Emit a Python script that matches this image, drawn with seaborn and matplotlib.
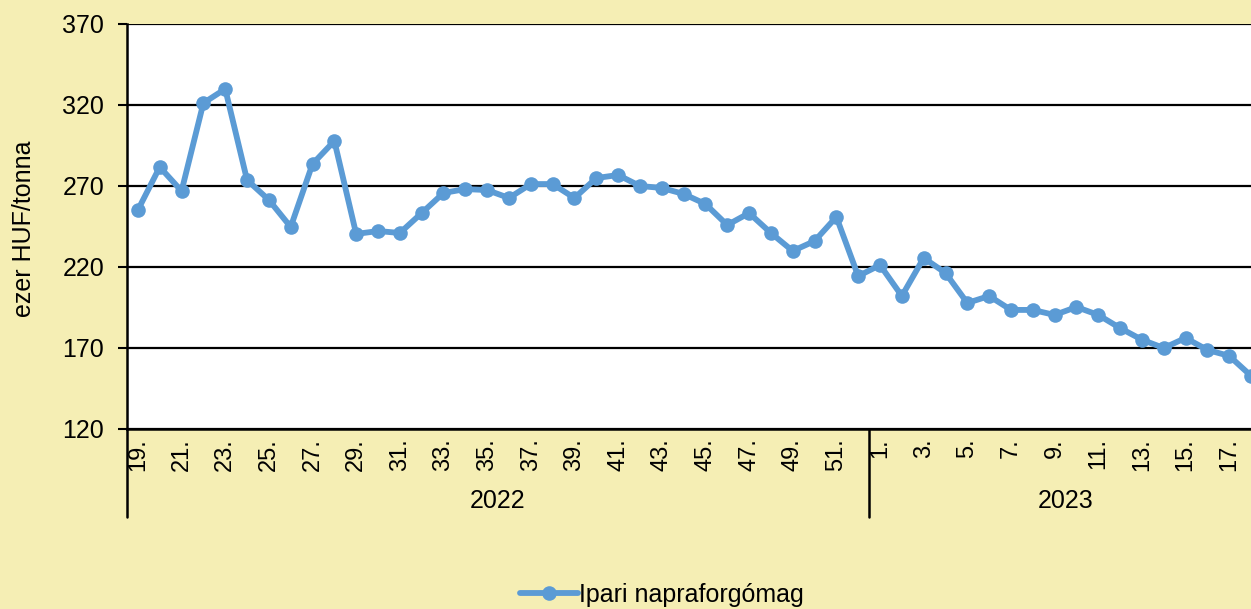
import pandas as pd
import matplotlib
matplotlib.use('Agg')
import matplotlib.pyplot as plt
import matplotlib.transforms as mtransforms
import seaborn as sns

# weekly price data, weeks 19-52 of 2022 and weeks 1-18 of 2023
weeks_2022 = list(range(19, 53))
weeks_2023 = list(range(1, 19))
prices_2022 = [255.2, 281.7, 266.9, 321.2, 329.9, 273.7, 261.4, 244.7, 283.6, 297.8,
               240.4, 242.2, 241.0, 253.3, 265.7, 268.1, 267.5, 262.6, 271.2, 271.2,
               262.6, 274.9, 276.8, 270.0, 268.8, 265.1, 258.9, 245.9, 253.3, 241.0,
               229.9, 236.0, 250.9, 214.4]
prices_2023 = [221.2, 202.1, 225.6, 216.3, 197.8, 202.1, 193.5, 193.5, 190.4, 195.3,
               190.4, 182.3, 175.1, 170.0, 176.2, 168.8, 165.1, 152.8]
years = ['2022', '2023']
y_ticks = [120, 170, 220, 270, 320, 370]
series_name = 'Ipari napraforgómag'
y_label = 'ezer HUF/tonna'

# build one table with a running category position
df = pd.DataFrame({
    'year': [years[0]] * len(weeks_2022) + [years[1]] * len(weeks_2023),
    'week': weeks_2022 + weeks_2023,
    'price': prices_2022 + prices_2023,
})
df['pos'] = range(len(df))

bg = '#F5EEB4'
line_color = '#5B9BD5'

sns.set_style('white')
plt.rcParams['font.family'] = ['Liberation Sans', 'DejaVu Sans']
plt.rcParams['text.color'] = 'black'
plt.rcParams['xtick.color'] = 'black'
plt.rcParams['ytick.color'] = 'black'

fig = plt.figure(figsize=(12.51, 6.09), dpi=100, facecolor=bg)
ax = fig.add_axes([127 / 1251, 180 / 609, 1135 / 1251, 405 / 609])
ax.set_facecolor('white')

sns.lineplot(data=df, x='pos', y='price', marker='o', color=line_color,
             linewidth=4.2, markersize=10.5, markeredgewidth=0, label=series_name,
             ax=ax, legend=False)

n = len(df)
ax.set_xlim(-0.5, n - 0.5)
ax.set_ylim(y_ticks[0], y_ticks[-1])
ax.set_yticks(y_ticks)
ax.tick_params(axis='y', labelsize=18, length=6.5, width=1.5, direction='out', left=True, pad=10)
ax.grid(axis='y', color='black', linewidth=1.6)
ax.grid(axis='x', visible=False)

# week labels, every other one
ax.set_xticks(df['pos'])
ax.set_xticklabels([f'{w}.' if w % 2 == 1 else '' for w in df['week']],
                   rotation=90, fontsize=17, va='top')
ax.tick_params(axis='x', length=0, pad=6.5)

for side in ['top', 'right']:
    ax.spines[side].set_visible(False)
ax.spines['left'].set_linewidth(1.8)
ax.spines['bottom'].set_linewidth(1.8)
ax.spines['left'].set_color('black')
ax.spines['bottom'].set_color('black')

ax.set_xlabel('')
ax.set_ylabel('')
fig.text(24 / 1251, 1 - 229 / 609, y_label, rotation=90, ha='center', va='center', fontsize=18)

# year group separators and labels below the week labels
trans = mtransforms.blended_transform_factory(ax.transData, ax.transAxes)
n22 = len(weeks_2022)
for xsep in [-0.5, n22 - 0.5]:
    ax.plot([xsep, xsep], [0, -0.217], transform=trans, color='black',
            linewidth=1.8, clip_on=False)
ax.text((-0.5 + n22 - 0.5) / 2, -0.178, years[0], transform=trans,
        ha='center', va='center', fontsize=18)
ax.text((n22 - 0.5 + n - 0.5) / 2, -0.178, years[1], transform=trans,
        ha='center', va='center', fontsize=18)

handles, labels = ax.get_legend_handles_labels()
fig.legend(handles, labels, loc='center', bbox_to_anchor=(662 / 1251, 14 / 609),
           frameon=False, fontsize=18, handlelength=2.3, handletextpad=0.05)

fig.savefig('out.png', dpi=100, facecolor=bg)
